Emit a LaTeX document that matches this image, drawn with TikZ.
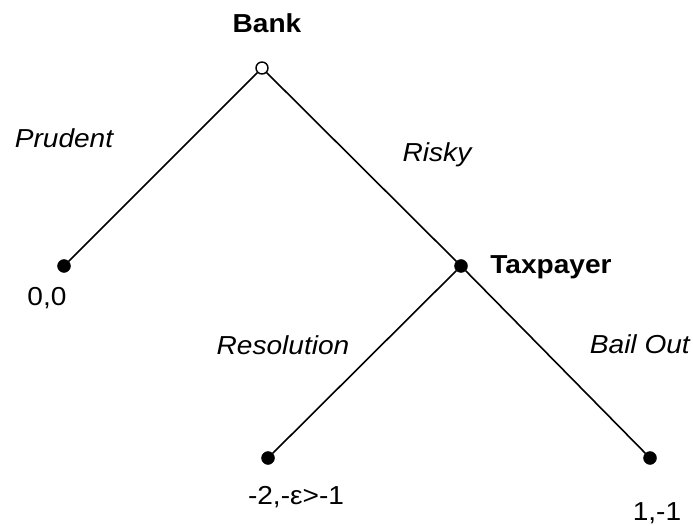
\documentclass[tikz,border=0pt]{standalone}
\usepackage{fontspec}
\setmainfont{Liberation Sans}[FakeStretch=1.08]
\begin{document}
\begin{tikzpicture}[x=1pt,y=-1pt,
  lbl/.style={inner sep=0pt,font=\fontsize{26}{30}\selectfont},
  it/.style={lbl,font=\fontsize{26}{30}\selectfont\itshape},
  bf/.style={lbl,font=\fontsize{26}{30}\selectfont\bfseries},
  dotnode/.style={circle,fill=black,draw=black,inner sep=0pt,minimum size=13pt},
  opennode/.style={circle,fill=white,draw=black,line width=1.4pt,inner sep=0pt,minimum size=12pt},
  edge/.style={line width=1.6pt}]
\useasboundingbox (0,0) rectangle (693,526);
\node[opennode] (root) at (262,68) {};
\node[dotnode] (p) at (64,266) {};
\node[dotnode] (t) at (461,266) {};
\node[dotnode] (r) at (268,458) {};
\node[dotnode] (b) at (650,458) {};
\draw[edge] (root) -- (p);
\draw[edge] (root) -- (t);
\draw[edge] (t) -- (r);
\draw[edge] (t) -- (b);
\node[bf] (lbank) at (267,23) {Bank};
\node[it] (lprud) at (64,138) {Prudent};
\node[it] (lrisky) at (437,155) {Risky};
\node[bf] (ltax) at (551,267) {Taxpayer};
\node[lbl] (l00) at (47,298) {0,0};
\node[it] (lres) at (283,345) {Resolution};
\node[it,anchor=east] (lbail) at (690,344) {Bail Out};
\node[lbl] (lr) at (296,497) {-2,-ε>-1};
\node[lbl] (lb) at (657,513) {1,-1};
\end{tikzpicture}
\end{document}
